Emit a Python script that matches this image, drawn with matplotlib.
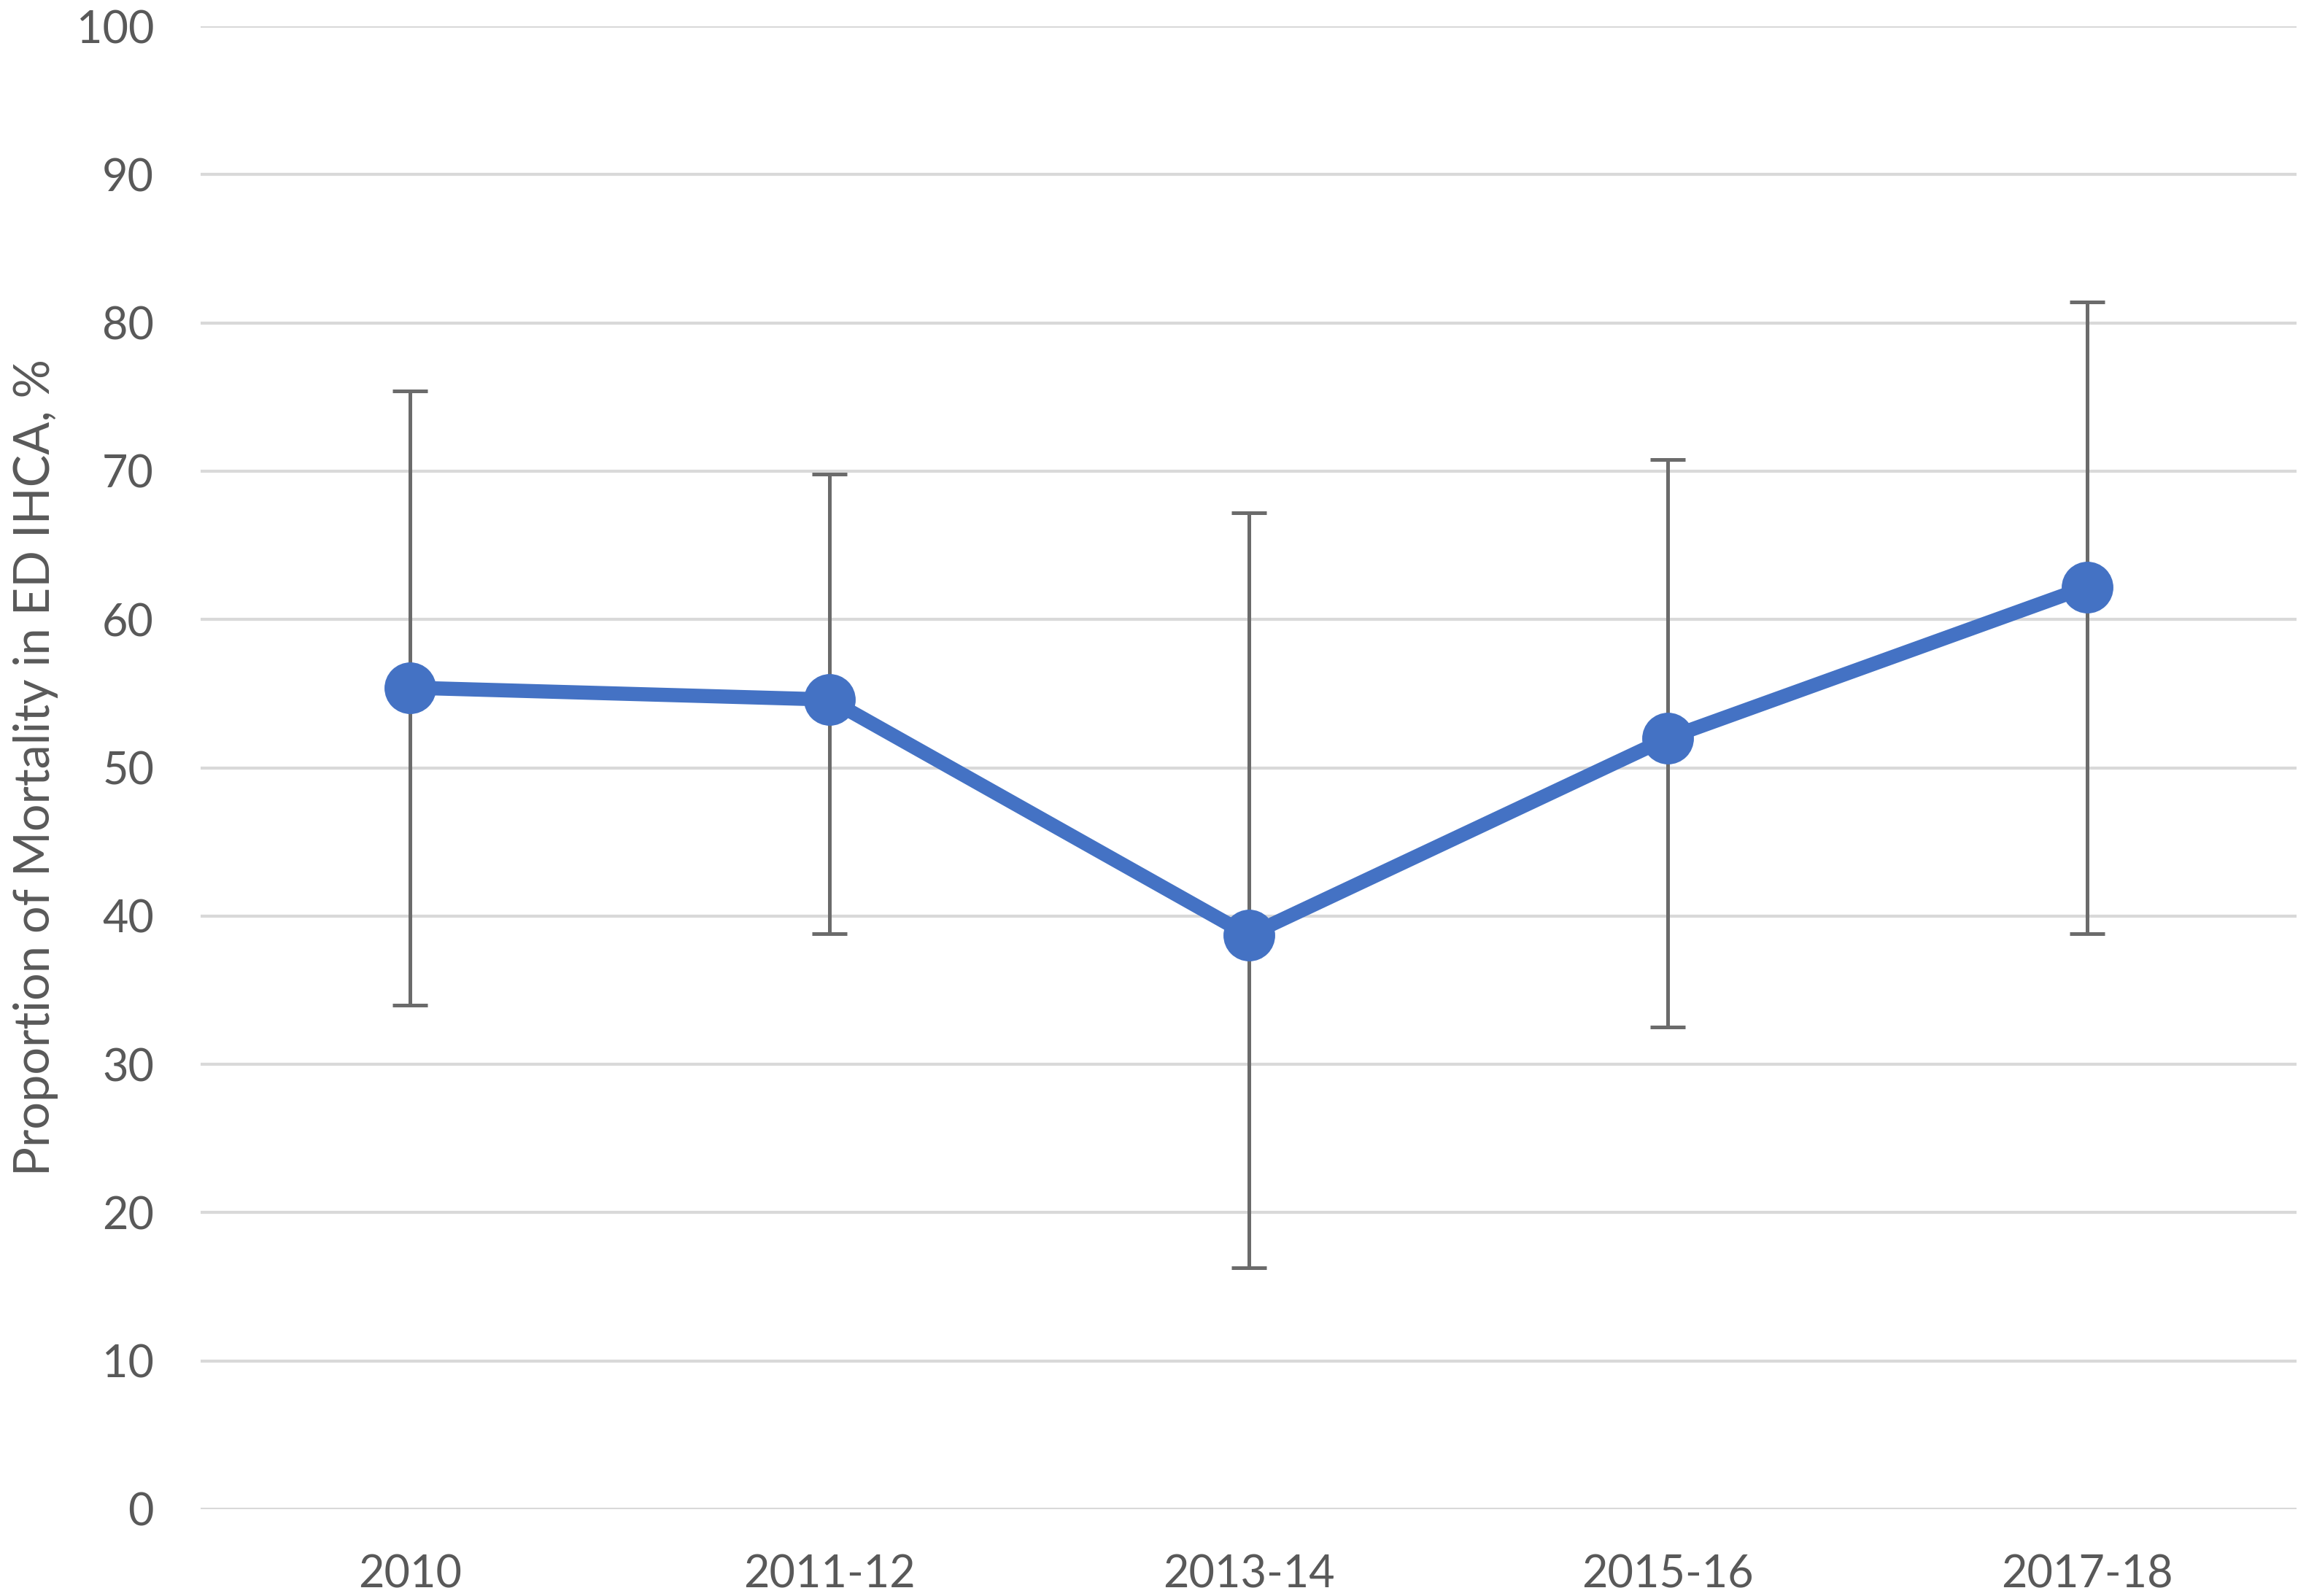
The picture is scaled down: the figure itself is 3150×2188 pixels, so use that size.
import matplotlib
matplotlib.use("Agg")
import matplotlib.pyplot as plt
import numpy as np

# values
periods = ["2010", "2011-12", "2013-14", "2015-16", "2017-18"]
mortality = [55.4, 54.6, 38.7, 52.0, 62.2]
ci_upper = [75.4, 69.8, 67.2, 70.8, 81.4]
ci_lower = [34.0, 38.8, 16.3, 32.5, 38.8]
y_ticks = [0, 10, 20, 30, 40, 50, 60, 70, 80, 90, 100]

LINE_BLUE = "#4472C4"
ERR_GREY = "#6B6B6B"
TEXT_GREY = "#595959"
GRID_GREY = "#D9D9D9"

plt.rcParams["font.family"] = ["Lato", "DejaVu Sans"]


def main() -> None:
    fig = plt.figure(figsize=(31.5, 21.88), dpi=100)
    ax = fig.add_axes([0.0873, 0.0544, 0.9121, 0.9291])

    x = np.arange(len(periods))
    y = np.array(mortality)
    err = [y - np.array(ci_lower), np.array(ci_upper) - y]

    ax.errorbar(x, y, yerr=err, fmt="none", ecolor=ERR_GREY,
                elinewidth=3.6, capsize=17, capthick=3.6, zorder=2)
    ax.plot(x, y, color=LINE_BLUE, linewidth=14, marker="o",
            markersize=50, solid_capstyle="round", zorder=3)

    ax.set_xlim(-0.5, len(periods) - 0.5)
    ax.set_ylim(0, 100)
    ax.set_yticks(y_ticks)
    ax.set_xticks(x)
    ax.set_xticklabels(periods)

    ax.grid(axis="y", color=GRID_GREY, linewidth=3, zorder=0)
    ax.set_axisbelow(True)
    for side in ax.spines.values():
        side.set_visible(False)
    ax.tick_params(axis="both", length=0, labelsize=44, colors=TEXT_GREY)
    ax.tick_params(axis="y", pad=46)
    ax.tick_params(axis="x", pad=44)

    ax.set_ylabel("Proportion of Mortality in ED IHCA, %", fontsize=48,
                  color=TEXT_GREY)
    ax.yaxis.set_label_coords(-0.068, 0.5)

    fig.savefig("out.png", dpi=100)
    plt.close(fig)


if __name__ == "__main__":
    main()
